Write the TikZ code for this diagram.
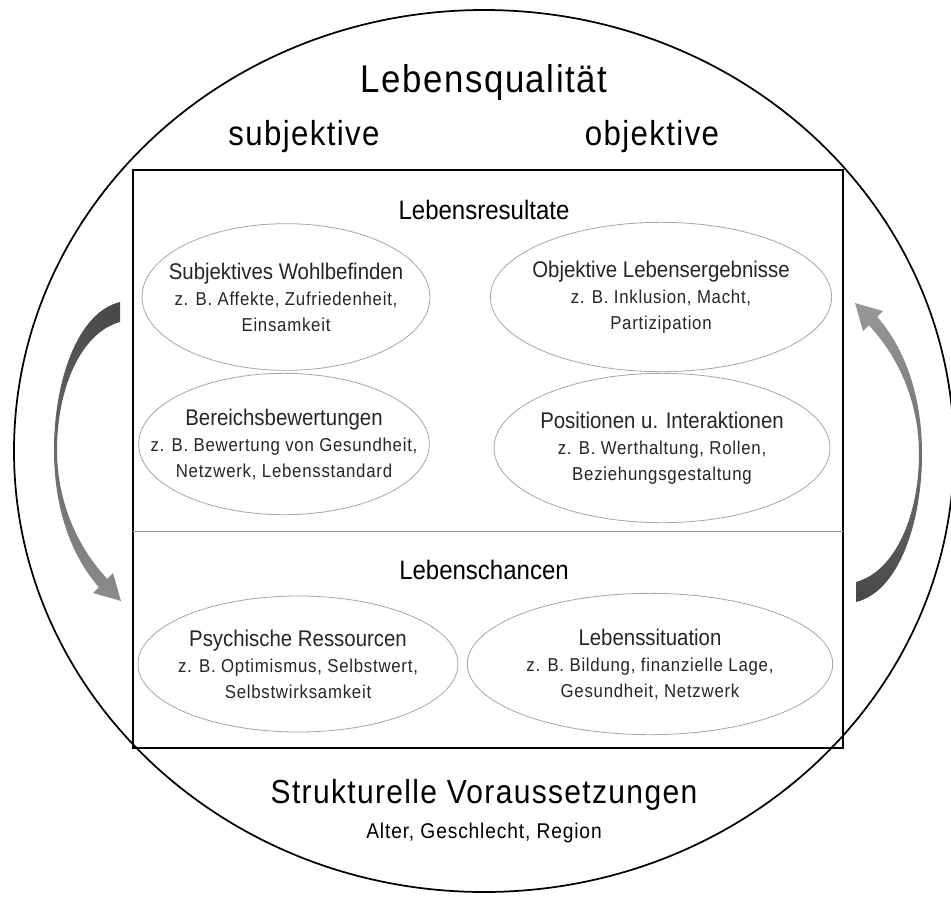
\documentclass[tikz,border=0pt]{standalone}
\usepackage{fontspec}
\setmainfont{Liberation Sans}[FakeStretch=0.9]
\newfontfamily\weitfont{Liberation Sans}[FakeStretch=0.9, LetterSpace=4]
\usetikzlibrary{shapes.geometric}

\newcommand{\beispiel}[1]{{\weitfont\fontsize{14}{19.5}\selectfont #1}}

\tikzset{
  gross/.style={font=\weitfont\fontsize{26}{30}\selectfont, inner sep=0pt},
  mittel/.style={font=\fontsize{20}{24}\selectfont, inner sep=0pt},
  bereich/.style={inner sep=0pt, align=center,
    font=\fontsize{17}{19.5}\selectfont, text=black!85},
  rand/.style={draw=black!35, line width=0.6pt},
  pfeil/.style={draw=none}
}

\begin{document}
\begin{tikzpicture}[x=0.75pt, y=-0.75pt]
    \useasboundingbox (0,0) rectangle (951,897);
    \fill[white] (0,0) rectangle (951,897);

    % Aeussere Ellipse
    \draw[line width=1.3pt] (484,451) ellipse [x radius=352.5pt, y radius=330.75pt];

    % Rahmen und Trennlinie
    \draw[line width=1.2pt] (133,170) rectangle (843,748);
    \draw[black!40, line width=0.6pt] (133,531) -- (843,531);

    % Ueberschriften
    \node[gross, font=\weitfont\fontsize{29}{32}\selectfont] (lq) at (484,82) {Lebensqualität};
    \node[gross] (subj) at (304,137) {subjektive};
    \node[gross] (obj) at (652,137) {objektive};
    \node[mittel] (lr) at (484,210) {Lebensresultate};
    \node[mittel] (lc) at (484,570) {Lebenschancen};

    % Bereiche oben
    \node[bereich] (wohl) at (286,297)
      {Subjektives Wohlbefinden\\ \beispiel{z. B. Affekte, Zufriedenheit,}\\ \beispiel{Einsamkeit}};
    \draw[rand] (wohl.center) ellipse [x radius=108pt, y radius=55pt];
    \node[bereich] (ergeb) at (661,297)
      {Objektive Lebensergebnisse\\ \beispiel{z. B. Inklusion, Macht,}\\ \beispiel{Partizipation}};
    \draw[rand] (ergeb.center) ellipse [x radius=128pt, y radius=56pt];
    \node[bereich] (bewert) at (284,444)
      {Bereichsbewertungen\\ \beispiel{z. B. Bewertung von Gesundheit,}\\ \beispiel{Netzwerk, Lebensstandard}};
    \draw[rand] (bewert.center) ellipse [x radius=109pt, y radius=53pt];
    \node[bereich] (posit) at (662,448)
      {Positionen u. Interaktionen\\ \beispiel{z. B. Werthaltung, Rollen,}\\ \beispiel{Beziehungsgestaltung}};
    \draw[rand] (posit.center) ellipse [x radius=126pt, y radius=56pt];

    % Bereiche unten
    \node[bereich] (psych) at (298,664)
      {Psychische Ressourcen\\ \beispiel{z. B. Optimismus, Selbstwert,}\\ \beispiel{Selbstwirksamkeit}};
    \draw[rand] (psych.center) ellipse [x radius=120pt, y radius=51pt];
    \node[bereich] (situ) at (650,664)
      {Lebenssituation\\ \beispiel{z. B. Bildung, finanzielle Lage,}\\ \beispiel{Gesundheit, Netzwerk}};
    \draw[rand] (situ.center) ellipse [x radius=137pt, y radius=53pt];

    % Strukturelle Voraussetzungen
    \node[gross, font=\weitfont\fontsize{25}{30}\selectfont] (struk) at (484,795) {Strukturelle Voraussetzungen};
    \node[font=\weitfont\fontsize{16}{20}\selectfont, inner sep=0pt] (alter) at (484,833) {Alter, Geschlecht, Region};

    % Pfeil links
    \shade[pfeil, top color=black!72, bottom color=black!45]
      (120,302) .. controls (78,312) and (54,380) .. (54,450)
      .. controls (54,515) and (75,560) .. (98.8,587.2)
      -- (93,593) -- (121,601) -- (113,573) -- (107.2,578.8)
      .. controls (80,550) and (57,505) .. (57,450)
      .. controls (57,390) and (80,333) .. (120,322) -- cycle;

    % Pfeil rechts
    \shade[pfeil, top color=black!40, bottom color=black!72]
      (856,602) .. controls (898,592) and (922,524) .. (922,454)
      .. controls (922,389) and (901,344) .. (877.2,316.8)
      -- (883,311) -- (855,303) -- (863,331) -- (868.8,325.2)
      .. controls (896,354) and (919,399) .. (919,454)
      .. controls (919,514) and (896,571) .. (856,582) -- cycle;
\end{tikzpicture}
\end{document}
